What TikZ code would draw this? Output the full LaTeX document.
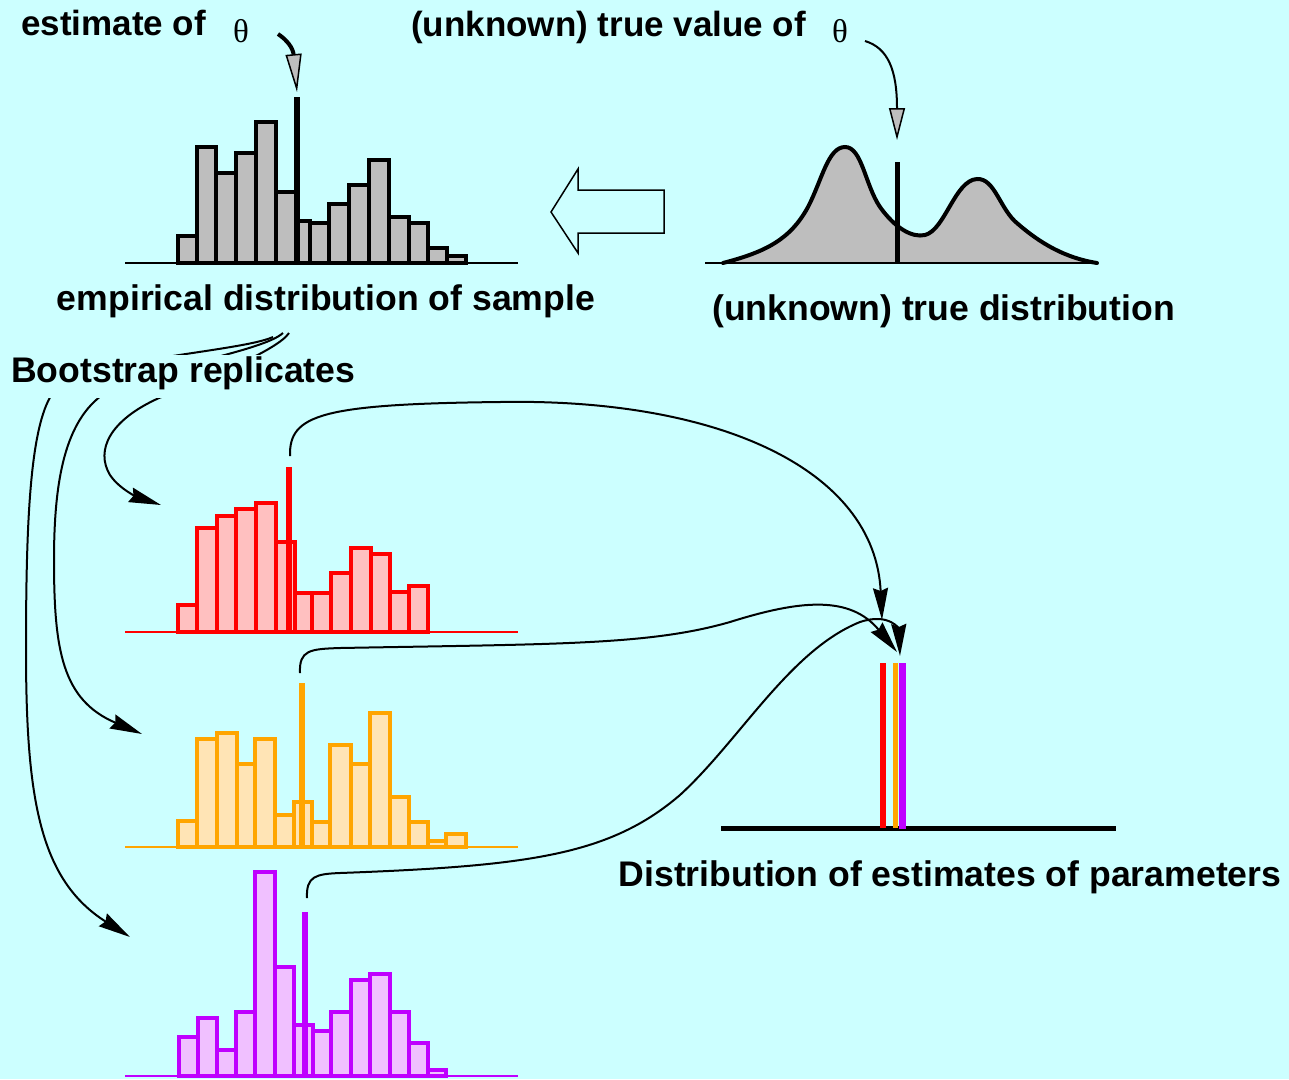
\documentclass[tikz,border=0pt]{standalone}
\usepackage{fontspec}
\setmainfont{Liberation Sans}
\newfontfamily\greekserif{Liberation Serif}
\usetikzlibrary{arrows.meta}

\definecolor{bg}{HTML}{CCFFFF}
\definecolor{graybar}{HTML}{BEBEBE}
\definecolor{redline}{HTML}{FF0000}
\definecolor{redfill}{HTML}{FFC0C0}
\definecolor{orline}{HTML}{FFA500}
\definecolor{orfill}{HTML}{FFE4B5}
\definecolor{puline}{HTML}{BF00FF}
\definecolor{pufill}{HTML}{F0C0FF}

\tikzset{
  lab/.style={font=\fontsize{35}{42}\selectfont\bfseries, inner sep=0pt},
  widelab/.style={font=\fontsize{35.6}{42}\selectfont\bfseries, inner sep=0pt},
  thetalab/.style={font=\fontsize{33}{40}\selectfont\greekserif, inner sep=0pt},
  conn/.style={line width=2pt, -{Stealth[length=32pt,width=15pt,inset=3pt]}},
  grayhead/.style={-{Triangle[length=#1,width=16pt,fill=graybar,line width=1.5pt]}},
  axisline/.style={line width=2pt},
  sbar/.style={line width=4pt, line join=miter},
  spike/.style={line width=6pt},
}

\begin{document}
\begin{tikzpicture}[x=1pt,y=-1pt]
\fill[bg] (0,0) rectangle (1289,1079);
\useasboundingbox (0,0) rectangle (1289,1079);

% ---------- empirical distribution (gray histogram) ----------
\draw[axisline] (125,263) -- (518,263);
\foreach \a/\b/\t in {178/197/236,197/216/147,216/236/173,236/256/153,256/276/122,
  276/296/192,296/310/221,310/329/223,329/349/204,349/369/185,369/389/160,
  389/409/217,409/428/223,428/447/248,447/466/256}
  \draw[line width=3.5pt, fill=graybar] (\a,263) rectangle (\b,\t);
\draw[spike] (296.5,97) -- (296.5,263);

% ---------- true distribution ----------
\fill[graybar] (723,263) .. controls (765,252) and (790,240) .. (808,207)
  .. controls (822,180) and (828,147) .. (845,147)
  .. controls (862,147) and (865,185) .. (880,207)
  .. controls (895,228) and (912,238) .. (925,235)
  .. controls (945,230) and (955,180) .. (977,179)
  .. controls (995,178) and (1000,210) .. (1018,224)
  .. controls (1040,243) and (1065,258) .. (1097,263) -- cycle;
\draw[axisline] (705,263) -- (1097,263);
\draw[line width=4pt, line cap=round] (723,263) .. controls (765,252) and (790,240) .. (808,207)
  .. controls (822,180) and (828,147) .. (845,147)
  .. controls (862,147) and (865,185) .. (880,207)
  .. controls (895,228) and (912,238) .. (925,235)
  .. controls (945,230) and (955,180) .. (977,179)
  .. controls (995,178) and (1000,210) .. (1018,224)
  .. controls (1040,243) and (1065,258) .. (1097,263);
\draw[spike,line width=5pt] (897,162) -- (897,263);

% hollow arrow from the true distribution to the sample
\draw[line width=1.5pt, line join=miter] (551,212) -- (578,169) -- (578,190) -- (664,190)
  -- (664,233) -- (578,233) -- (578,253) -- cycle;

% ---------- labels of the top row ----------
\node[lab, anchor=base west] (est) at (21,35) {estimate of};
\node[thetalab, anchor=base west] (th1) at (233,42) {θ};
\node[lab, anchor=base west] (trueval) at (411,36) {(unknown) true value of};
\node[thetalab, anchor=base west] (th2) at (832,42) {θ};
\node[widelab, anchor=base] (emp) at (326,310) {empirical distribution of sample};
\node[widelab, anchor=base west] (truedist) at (712,320) {(unknown) true distribution};

\coordinate (e1) at (278,34);
\coordinate (e2) at (297,92);
\draw[line width=4pt, grayhead=38pt] (e1) .. controls (287,40) and (293,48) .. (e2);
\coordinate (t1) at (865,41);
\coordinate (t2) at (897,140);
\draw[line width=2pt, grayhead=32pt] (t1) .. controls (888,48) and (897,70) .. (t2);

% ---------- bootstrap arrows ----------
\coordinate (sA) at (273,337);
\coordinate (sB) at (283,333);
\coordinate (sC) at (289,333);
\coordinate (eR) at (161,505);
\coordinate (eO) at (142,734);
\coordinate (eP) at (130,937);
\draw[conn] (sC) .. controls (278,350) and (205,380) .. (159,398)
  .. controls (110,420) and (95,450) .. (110,475)
  .. controls (120,490) and (140,498) .. (eR);
\draw[conn] (sB) .. controls (262,352) and (150,368) .. (105,393)
  .. controls (65,420) and (54,480) .. (54,560)
  .. controls (54,650) and (62,700) .. (eO);
\draw[conn] (sA) .. controls (240,352) and (80,360) .. (55,390)
  .. controls (30,420) and (26,520) .. (26,650)
  .. controls (26,800) and (40,880) .. (eP);
\node[widelab, anchor=base west, fill=bg, text height=27pt, text depth=16pt, inner xsep=2pt]
  (boot) at (9,382) {Bootstrap replicates};

% ---------- replicate 1 (red) ----------
\draw[axisline, redline] (125,632) -- (518,632);
\foreach \a/\b/\t in {178/196.5/605,196.5/217/528,217/236/516,236/255.5/509,
  255.5/275.5/503,275.5/294.5/542,294.5/312/593,312/330.5/593,330.5/350.5/573,
  350.5/370.5/548,370.5/390/554,390/409/592,409/428/586}
  \draw[sbar, draw=redline, fill=redfill] (\a,632) rectangle (\b,\t);
\draw[spike, redline] (289,467) -- (289,632);

% ---------- replicate 2 (orange) ----------
\draw[axisline, orline] (125,847) -- (518,847);
\foreach \a/\b/\t in {178/197/821,197/217/739,217/236.5/733,236.5/255/764,255/275/739,
  275/293.5/815,293.5/312/802,312/330/822,330/350.5/745,350.5/369.5/764,
  369.5/389.5/713,389.5/408.5/797,408.5/427.5/822,427.5/446/841,446/465.5/834}
  \draw[sbar, draw=orline, fill=orfill] (\a,847) rectangle (\b,\t);
\draw[spike, orline] (302,683) -- (302,847);

% ---------- replicate 3 (purple) ----------
\draw[axisline, puline] (125,1076) -- (518,1076);
\foreach \a/\b/\t in {178.5/197.5/1037,197.5/217/1018,217/236/1050,236/255/1012,
  255/275/872,275/293.5/967,293.5/312.5/1025,312.5/331/1031,331/350.5/1012,
  350.5/369.5/980,369.5/389.5/974,389.5/408.5/1012,408.5/427.5/1043,427.5/446/1070}
  \draw[sbar, draw=puline, fill=pufill] (\a,1076) rectangle (\b,\t);
\draw[spike, puline] (304.5,912) -- (304.5,1076);

% ---------- distribution of the estimates ----------
\draw[line width=5pt] (721,828) -- (1116,828);
\draw[line width=6pt, redline] (883,663) -- (883,828);
\draw[line width=5pt, orline] (895,663) -- (895,828);
\draw[line width=7pt, puline] (902,663) -- (902,829);
\node[widelab, anchor=base] (distest) at (950,886) {Distribution of estimates of parameters};

% ---------- estimates carried to the distribution ----------
\coordinate (rs) at (290,456);
\coordinate (re) at (882,620);
\coordinate (os) at (300,673);
\coordinate (oe) at (897,652);
\coordinate (ps) at (307,898);
\coordinate (pe) at (900,656);
\draw[conn] (rs) .. controls (289,415) and (320,404) .. (500,402)
  .. controls (720,398) and (875,470) .. (re);
\draw[conn] (os) .. controls (299,650) and (310,649) .. (340,648)
  .. controls (560,644) and (650,645) .. (730,622)
  .. controls (800,600) and (850,595) .. (oe);
\draw[conn] (ps) .. controls (306,876) and (316,874) .. (340,873)
  .. controls (530,866) and (610,855) .. (680,795)
  .. controls (740,740) and (790,650) .. (860,622)
  .. controls (890,612) and (899,630) .. (pe);
\end{tikzpicture}
\end{document}
